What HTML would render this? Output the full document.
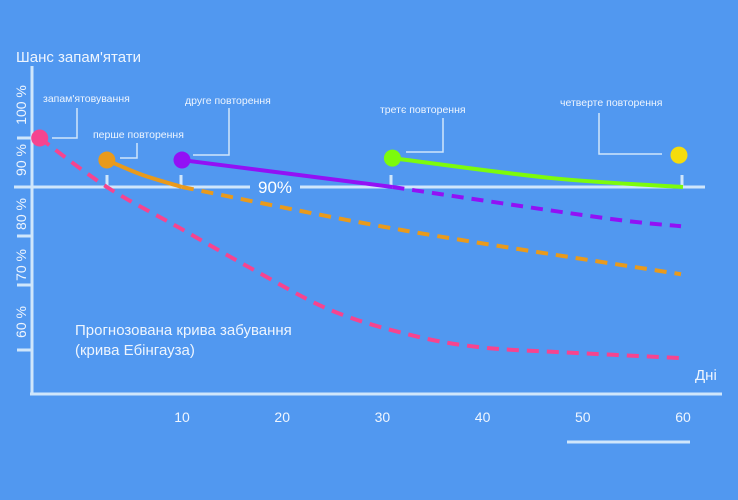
<!DOCTYPE html>
<html><head><meta charset="utf-8"><style>
body{margin:0;background:#5198f0;}
svg{display:block;font-family:"Liberation Sans",sans-serif;}
</style></head><body>
<svg width="738" height="500" viewBox="0 0 738 500" id="chart">
<rect width="738" height="500" fill="#5198f0"/>
<text x="16" y="62" fill="#eef5fe" font-size="15">Шанс запам'ятати</text>
<g stroke="#cfe6fb" stroke-width="3" fill="none">
<line x1="32" y1="66" x2="32" y2="395"/>
<line x1="30" y1="394" x2="722" y2="394"/>
<line x1="14" y1="187" x2="250" y2="187"/>
<line x1="300" y1="187" x2="705" y2="187"/>
<line x1="107" y1="175" x2="107" y2="187"/><line x1="181" y1="175" x2="181" y2="187"/>
<line x1="391" y1="175" x2="391" y2="187"/><line x1="682" y1="175" x2="682" y2="187"/>
<line x1="17" y1="138" x2="32" y2="138"/><line x1="17" y1="236" x2="32" y2="236"/>
<line x1="17" y1="285" x2="32" y2="285"/><line x1="17" y1="350" x2="32" y2="350"/>
<line x1="567" y1="442" x2="690" y2="442"/>
</g>
<text x="275" y="193" fill="#fff" font-size="17" text-anchor="middle">90%</text>
<g fill="#eef5fe" font-size="14">
<text transform="translate(26,105) rotate(-90)" text-anchor="middle">100 %</text>
<text transform="translate(26,160) rotate(-90)" text-anchor="middle">90 %</text>
<text transform="translate(26,214) rotate(-90)" text-anchor="middle">80 %</text>
<text transform="translate(26,265) rotate(-90)" text-anchor="middle">70 %</text>
<text transform="translate(26,322) rotate(-90)" text-anchor="middle">60 %</text>
</g>
<g stroke="#cfe6fb" stroke-width="1.5" fill="none">
<polyline points="77,108 77,138 52,138"/><polyline points="137,143 137,158 120,158"/>
<polyline points="229,108 229,155 193,155"/><polyline points="443,118 443,152 406,152"/>
<polyline points="599,113 599,154 662,154"/>
</g>
<g fill="#eef5fe" font-size="10.5">
<text x="43" y="102">запам'ятовування</text>
<text x="93" y="138">перше повторення</text>
<text x="185" y="104">друге повторення</text>
<text x="380" y="113">третє повторення</text>
<text x="560" y="106">четверте повторення</text>
</g>
<text x="75" y="335" fill="#eef5fe" font-size="15">Прогнозована крива забування</text>
<text x="75" y="355" fill="#eef5fe" font-size="15">(крива Ебінгауза)</text>
<text x="695" y="380" fill="#eef5fe" font-size="15">Дні</text>
<g id="xt" fill="#eef5fe" font-size="14" text-anchor="middle"></g>
<g id="series"></g>
</svg>
<script>
const xTicks=[10,20,30,40,50,60];
const pinkDays=[-4.2,2.5,9.8,16.8,24.8,32.8,39.7,47.7,59.7];
const pinkVals=[100,90,81.6,73.5,64.9,59.8,57.3,56.3,55.1];
const orangeSolidDays=[2.5,6,10];
const orangeSolidVals=[95.5,92.5,90];
const orangeDashDays=[10,32,59.8];
const orangeDashVals=[90,81.2,72.2];
const purpleSolidDays=[10,31];
const purpleSolidVals=[95.5,90];
const purpleDashDays=[31,52,59.8];
const purpleDashVals=[90,83.7,82];
const greenDays=[31,47,60];
const greenVals=[95.9,91.8,90];
const yellowDay=[59.6];
const yellowVal=[96.5];
const NS="http://www.w3.org/2000/svg";
function x(d){return 182+(d-10)*10.02;}
function y(v){return 187-(v-90)*4.9;}
function path(ds,vs){
  const p=ds.map((d,i)=>[x(d),y(vs[i])]);
  let s="M"+p[0][0]+","+p[0][1];
  for(let i=0;i<p.length-1;i++){
    const p0=p[i-1]||p[i],p1=p[i],p2=p[i+1],p3=p[i+2]||p2;
    s+=" C"+(p1[0]+(p2[0]-p0[0])/6)+","+(p1[1]+(p2[1]-p0[1])/6)+" "+(p2[0]-(p3[0]-p1[0])/6)+","+(p2[1]-(p3[1]-p1[1])/6)+" "+p2[0]+","+p2[1];
  }
  return s;
}
const g=document.getElementById("series");
function line(ds,vs,color,dash,name){
  const el=document.createElementNS(NS,"path");
  el.setAttribute("d",path(ds,vs));
  el.setAttribute("stroke",color);el.setAttribute("stroke-width","4");el.setAttribute("fill","none");
  if(dash)el.setAttribute("stroke-dasharray","12 8");
  
  
  g.appendChild(el);
}
function dot(d,v,color,name){
  const c=document.createElementNS(NS,"circle");
  c.setAttribute("cx",x(d));c.setAttribute("cy",y(v));c.setAttribute("r","8.5");c.setAttribute("fill",color);
  
  
  g.appendChild(c);
}
line(pinkDays,pinkVals,"#f6448f",true,"ebbinghaus-curve");
line(orangeDashDays,orangeDashVals,"#e99a1c",true,"first-review-forecast");
line(orangeSolidDays,orangeSolidVals,"#e99a1c",false,"first-review-curve");
line(purpleDashDays,purpleDashVals,"#9211f5",true,"second-review-forecast");
line(purpleSolidDays,purpleSolidVals,"#9211f5",false,"second-review-curve");
line(greenDays,greenVals,"#7cfb0c",false,"third-review-curve");
dot(pinkDays[0],pinkVals[0],"#f6448f","memorizing-point");
dot(orangeSolidDays[0],orangeSolidVals[0],"#e99a1c","first-review-point");
dot(purpleSolidDays[0],purpleSolidVals[0],"#9211f5","second-review-point");
dot(greenDays[0],greenVals[0],"#7cfb0c","third-review-point");
dot(yellowDay[0],yellowVal[0],"#f5dc0c","fourth-review-point");
const xt=document.getElementById("xt");
xTicks.forEach(t=>{
  const el=document.createElementNS(NS,"text");
  el.setAttribute("x",x(t));el.setAttribute("y",422);el.textContent=t;
  
  
  xt.appendChild(el);
});
</script>
</body></html>
